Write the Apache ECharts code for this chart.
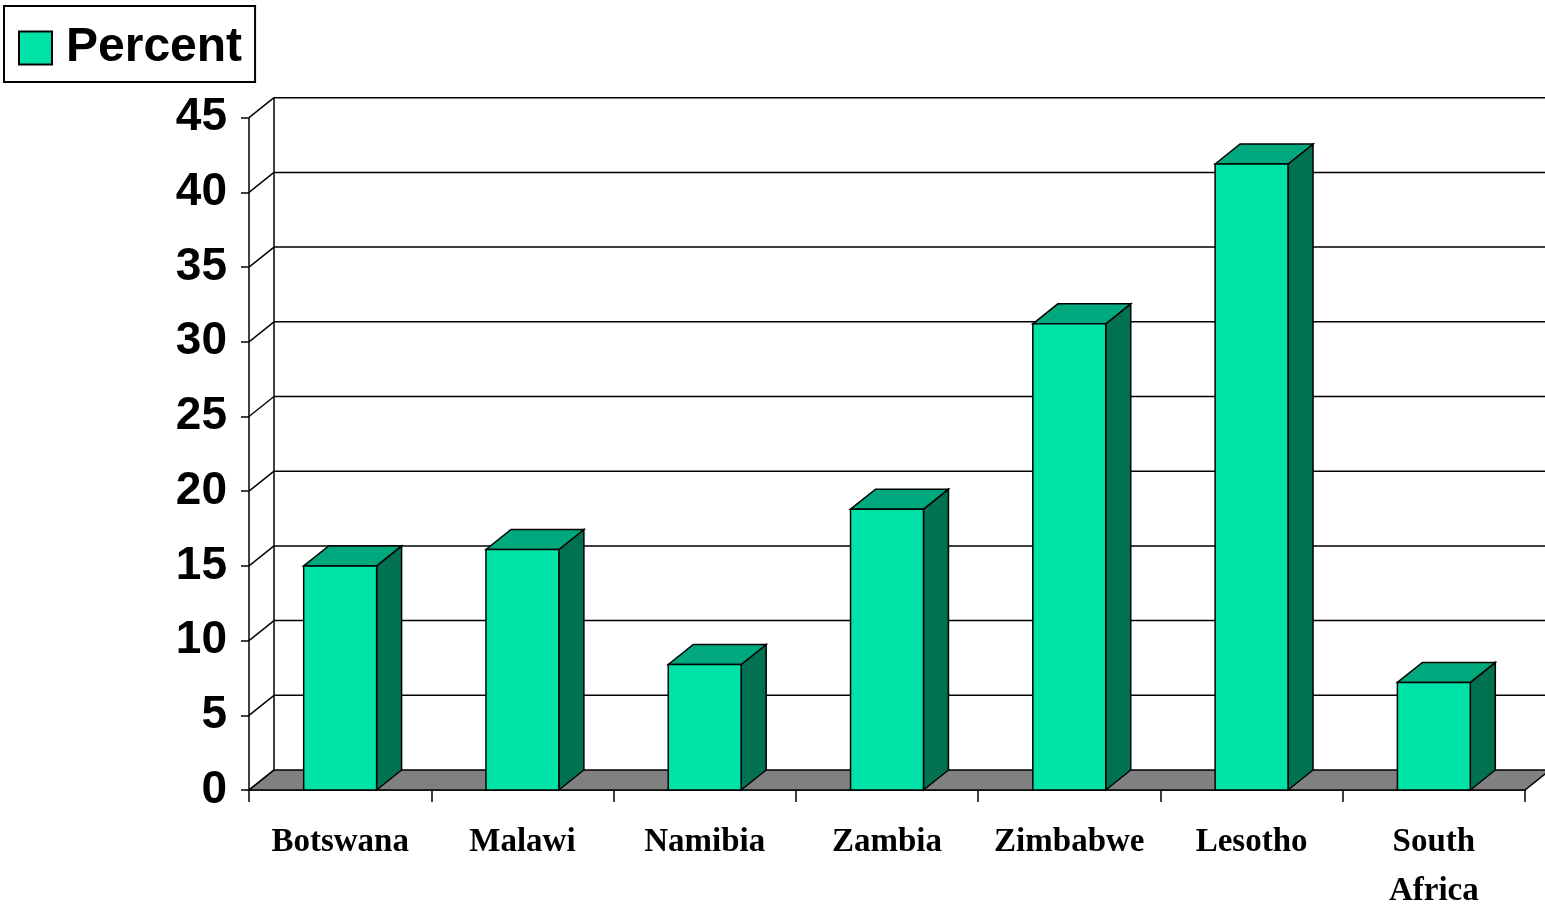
<!DOCTYPE html>
<html>
<head>
<meta charset="utf-8">
<script src="https://cdn.jsdelivr.net/npm/echarts@6/dist/echarts.min.js"></script>
<style>
  html, body { margin: 0; padding: 0; background: #fff; }
  #chart { width: 1545px; height: 909px; }
</style>
</head>
<body>
<div id="chart"></div>
<script>
// data
const countries = ['Botswana', 'Malawi', 'Namibia', 'Zambia', 'Zimbabwe', 'Lesotho', 'South Africa'];
const percent = [15.0, 16.1, 8.4, 18.8, 31.2, 41.9, 7.2];
const yTicks = [0, 5, 10, 15, 20, 25, 30, 35, 40, 45];

// depth of the fake 3d box
const DX = 25, DY = -20;
const FRONT = '#00E3A8', TOP = '#00A87E', SIDE = '#007252', FLOOR = '#808080';

const chart = echarts.init(document.getElementById('chart'));

const wallSeries = {
    name: 'wall',
    type: 'custom',
    z: 1,
    silent: true,
    data: yTicks.map(v => [0, v]),
    encode: { x: 0, y: 1 },
    renderItem: (params, api) => {
        const cs = params.coordSys;
        const y = api.coord([0, api.value(1)])[1];
        const left = cs.x, right = cs.x + cs.width;
        const kids = [];
        const line = { stroke: '#000', lineWidth: 1.5 };
        if (api.value(1) === 0) {
            // floor
            kids.push({
                type: 'polygon',
                shape: { points: [[left, y], [right, y], [right + DX, y + DY], [left + DX, y + DY]] },
                style: { fill: FLOOR, stroke: '#000', lineWidth: 1.5 }
            });
            // back wall vertical
            kids.push({
                type: 'line',
                shape: { x1: left + DX, y1: y + DY, x2: left + DX, y2: cs.y + DY },
                style: line
            });
        } else {
            kids.push({
                type: 'line',
                shape: { x1: left + DX, y1: y + DY, x2: right + DX + 40, y2: y + DY },
                style: line
            });
        }
        // left wall diagonal
        kids.push({
            type: 'line',
            shape: { x1: left, y1: y, x2: left + DX, y2: y + DY },
            style: line
        });
        return { type: 'group', children: kids };
    }
};

const barSeries = {
    name: 'Percent',
    type: 'custom',
    z: 3,
    data: percent.map((v, i) => [i, v]),
    encode: { x: 0, y: 1 },
    renderItem: (params, api) => {
        const top = api.coord([api.value(0), api.value(1)]);
        const base = api.coord([api.value(0), 0]);
        const w = api.size([1, 0])[0] * 0.4;
        const x0 = top[0] - w / 2, x1 = top[0] + w / 2;
        const y0 = top[1], yb = base[1];
        const st = { stroke: '#000', lineWidth: 1.5 };
        return {
            type: 'group',
            children: [
                {
                    type: 'polygon',
                    shape: { points: [[x1, y0], [x1 + DX, y0 + DY], [x1 + DX, yb + DY], [x1, yb]] },
                    style: Object.assign({ fill: SIDE }, st)
                },
                {
                    type: 'polygon',
                    shape: { points: [[x0, y0], [x0 + DX, y0 + DY], [x1 + DX, y0 + DY], [x1, y0]] },
                    style: Object.assign({ fill: TOP }, st)
                },
                {
                    type: 'rect',
                    shape: { x: x0, y: y0, width: w, height: yb - y0 },
                    style: Object.assign({ fill: FRONT }, st)
                }
            ]
        };
    }
};

const option = {
    backgroundColor: '#fff',
    animation: false,
    legend: {
        left: 4,
        top: 6,
        padding: [18, 13, 10, 14],
        borderColor: '#000',
        borderWidth: 2,
        itemWidth: 33,
        itemHeight: 33,
        data: [{
            name: 'Percent',
            icon: 'rect',
            itemStyle: { color: FRONT, borderColor: '#000', borderWidth: 2 }
        }],
        textStyle: {
            fontFamily: 'Liberation Sans',
            fontWeight: 'bold',
            fontSize: 48,
            color: '#000',
            padding: [0, 0, 0, 9]
        }
    },
    grid: { left: 249, right: 20, top: 117.7, bottom: 119, outerBoundsMode: 'none', containLabel: false },
    xAxis: {
        type: 'category',
        data: countries,
        axisLine: { show: true, lineStyle: { color: '#000', width: 1.5 } },
        axisTick: { show: true, interval: 0, length: 12, lineStyle: { color: '#000', width: 1.5 } },
        axisLabel: {
            interval: 0,
            color: '#000',
            fontFamily: 'Liberation Serif',
            fontWeight: 'bold',
            fontSize: 33,
            lineHeight: 49,
            margin: 28,
            formatter: v => v.replace(' ', '\n')
        },
        splitLine: { show: false }
    },
    yAxis: {
        type: 'value',
        min: 0,
        max: 45,
        interval: 5,
        axisLine: { show: true, lineStyle: { color: '#000', width: 1.5 } },
        axisTick: { show: true, length: 8, lineStyle: { color: '#000', width: 1.5 } },
        axisLabel: {
            color: '#000',
            fontFamily: 'Liberation Sans',
            fontWeight: 'bold',
            fontSize: 46,
            margin: 22,
            padding: [8, 0, 0, 0]
        },
        splitLine: { show: false }
    },
    series: [wallSeries, barSeries]
};

chart.setOption(option);
</script>
</body>
</html>
